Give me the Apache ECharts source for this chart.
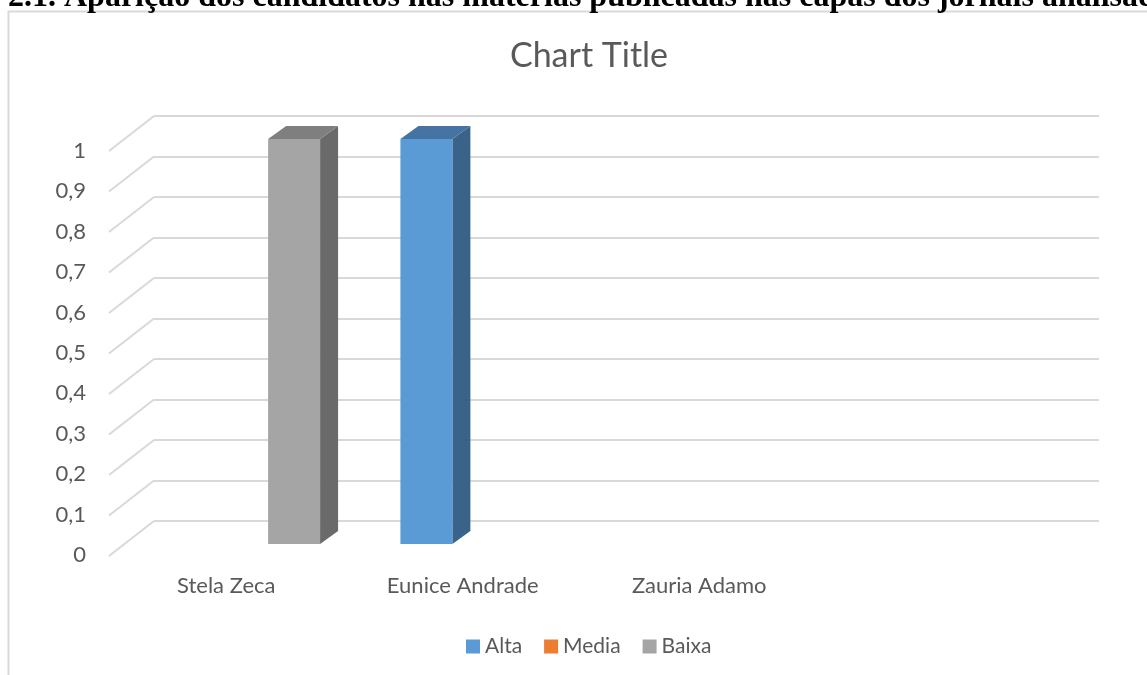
<!DOCTYPE html>
<html>
<head>
<meta charset="utf-8">
<script src="https://cdn.jsdelivr.net/npm/echarts@6/dist/echarts.min.js"></script>
<style>
html,body{margin:0;padding:0;background:#fff;}
#chart{width:1147px;height:675px;}
</style>
</head>
<body>
<div id="chart"></div>
<script>
// ---- data ----
var headerText = '2.1. Aparição dos candidatos nas matérias publicadas nas capas dos jornais analisados';
var chartTitle = 'Chart Title';
var categories = ['Stela Zeca', 'Eunice Andrade', 'Zauria Adamo', ''];
var seriesNames = ['Alta', 'Media', 'Baixa'];
var altaValues = [0, 1, 0, 0];
var mediaValues = [0, 0, 0, 0];
var baixaValues = [1, 0, 0, 0];
var yTicks = [0, 0.1, 0.2, 0.3, 0.4, 0.5, 0.6, 0.7, 0.8, 0.9, 1];
var yTickLabels = ['0', '0,1', '0,2', '0,3', '0,4', '0,5', '0,6', '0,7', '0,8', '0,9', '1'];

// ---- styles ----
var colors = {
  Alta: {front: '#5b9bd5', side: '#3a6389', top: '#4674a2'},
  Media: {front: '#ed7d31', side: '#a9561f', top: '#c96a2a'},
  Baixa: {front: '#a5a5a5', side: '#6a6a6a', top: '#7f7f7f'}
};
var FRONT_DX = -30, FRONT_DY = 23;   // bar front face offset from back wall
var DEPTH_DX = 18, DEPTH_DY = -13;   // bar depth
var WALL_DX = -45, WALL_DY = 35;     // back wall to front edge
var textColor = '#595959';
var fontFam = 'Lato, "Open Sans", sans-serif';

function barRenderer(sIdx, name) {
  return function (params, api) {
    var ci = api.value(0), v = api.value(1);
    if (!v) return null;
    var top = api.coord([ci, v]);
    var base = api.coord([ci, 0]);
    var band = api.size([1, 0])[0];
    var w = band * 0.22;
    var cx = top[0] + (sIdx - 1) * w + FRONT_DX;
    var x0 = cx - w / 2, x1 = cx + w / 2;
    var yt = top[1] + FRONT_DY, yb = base[1] + FRONT_DY;
    var c = colors[name];
    return {
      type: 'group',
      children: [
        {type: 'polygon', shape: {points: [[x1, yt], [x1 + DEPTH_DX, yt + DEPTH_DY], [x1 + DEPTH_DX, yb + DEPTH_DY], [x1, yb]]}, style: {fill: c.side}},
        {type: 'polygon', shape: {points: [[x0, yt], [x0 + DEPTH_DX, yt + DEPTH_DY], [x1 + DEPTH_DX, yt + DEPTH_DY], [x1, yt]]}, style: {fill: c.top}},
        {type: 'rect', shape: {x: x0, y: yt, width: w, height: yb - yt}, style: {fill: c.front}}
      ]
    };
  };
}

function toData(vals) {
  return vals.map(function (v, i) { return [i, v]; });
}

var chart = echarts.init(document.getElementById('chart'), null, {renderer: 'canvas'});
var option = {
  animation: false,
  backgroundColor: '#ffffff',
  title: {
    text: chartTitle,
    left: 584,
    textAlign: 'center',
    top: 34,
    textStyle: {fontFamily: fontFam, fontSize: 34, fontWeight: 'normal', color: textColor}
  },
  graphic: [
    {type: 'rect', z: -10, shape: {x: 8.5, y: 11.5, width: 1300, height: 800}, style: {fill: 'none', stroke: '#d9d9d9', lineWidth: 2}},
    {type: 'text', x: 8, y: -2, style: {text: headerText, font: 'bold 32px "Liberation Serif", "Times New Roman", serif', fill: '#000', verticalAlign: 'middle'}}
  ],
  legend: {
    left: 466,
    top: 636,
    padding: 0,
    itemWidth: 14,
    itemHeight: 14,
    itemGap: 22,
    icon: 'rect',
    data: seriesNames,
    textStyle: {fontFamily: fontFam, fontSize: 21, color: textColor}
  },
  grid: [
    {left: 154, right: 48, top: 116, bottom: 154},
    {left: 108, right: 93, top: 151, bottom: 120}
  ],
  xAxis: [
    {gridIndex: 0, type: 'category', data: categories, boundaryGap: true, show: false},
    {gridIndex: 1, type: 'category', data: categories, boundaryGap: true,
      axisLine: {show: false}, axisTick: {show: false},
      axisLabel: {margin: 20, fontFamily: fontFam, fontSize: 22, color: textColor}}
  ],
  yAxis: [
    {gridIndex: 0, type: 'value', min: 0, max: 1, interval: 0.1,
      axisLine: {show: false}, axisTick: {show: false}, axisLabel: {show: false},
      splitLine: {show: true, lineStyle: {color: '#d9d9d9', width: 2}}},
    {gridIndex: 1, type: 'value', min: 0, max: 1, interval: 0.1,
      axisLine: {show: false}, axisTick: {show: false}, splitLine: {show: false},
      axisLabel: {margin: 22, fontFamily: fontFam, fontSize: 22, color: textColor,
        formatter: function (v) {
          var i = yTicks.findIndex(function (t) { return Math.abs(t - v) < 1e-9; });
          return i >= 0 ? yTickLabels[i] : '';
        }}}
  ],
  series: [
    {
      type: 'custom', name: '_wall', xAxisIndex: 0, yAxisIndex: 0, silent: true,
      data: yTicks.map(function (t) { return [0, t]; }),
      renderItem: function (params, api) {
        var p = api.coord([0, api.value(1)]);
        var x = params.coordSys.x;
        return {type: 'line', shape: {x1: x, y1: p[1], x2: x + WALL_DX, y2: p[1] + WALL_DY},
          style: {stroke: '#d9d9d9', lineWidth: 2}};
      }
    },
    {type: 'custom', name: 'Alta', xAxisIndex: 0, yAxisIndex: 0, itemStyle: {color: colors.Alta.front},
      data: toData(altaValues), renderItem: barRenderer(0, 'Alta')},
    {type: 'custom', name: 'Media', xAxisIndex: 0, yAxisIndex: 0, itemStyle: {color: colors.Media.front},
      data: toData(mediaValues), renderItem: barRenderer(1, 'Media')},
    {type: 'custom', name: 'Baixa', xAxisIndex: 0, yAxisIndex: 0, itemStyle: {color: colors.Baixa.front},
      data: toData(baixaValues), renderItem: barRenderer(2, 'Baixa')}
  ]
};
chart.setOption(option);
</script>
</body>
</html>
